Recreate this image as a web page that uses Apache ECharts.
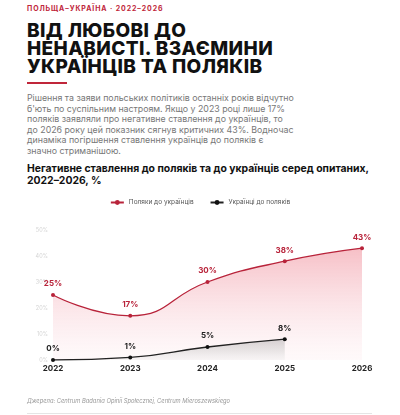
<!DOCTYPE html>
<html>
<head>
<meta charset="utf-8">
<script src="https://cdn.jsdelivr.net/npm/echarts@6/dist/echarts.min.js"></script>
<style>
  html, body { margin: 0; padding: 0; background: #fff; }
  body { width: 400px; height: 415px; position: relative; overflow: hidden; font-family: Inter, "Noto Sans", sans-serif; }
  .kicker { position: absolute; left: 27px; top: 4px; font-size: 7px; font-weight: 700; color: #c0263a; letter-spacing: 0.9px; }
  .title { position: absolute; left: 27px; top: 22px; font-size: 19px; line-height: 18px; font-weight: 800; color: #111; letter-spacing: 0.4px; }
  .rule { position: absolute; left: 27px; top: 82px; width: 40px; height: 2px; background: #c0263a; }
  .text { position: absolute; left: 27px; top: 93px; font-size: 8.8px; line-height: 10.5px; color: #777; }
  .sub { position: absolute; left: 27px; top: 163px; font-size: 10.4px; line-height: 12px; font-weight: 700; color: #111; }
  .source { position: absolute; left: 27px; top: 397px; font-size: 5.8px; font-style: italic; color: #999; }
  .bottom { position: absolute; left: 27px; top: 413px; width: 345px; height: 1px; background: #e5e5e5; }
  #chart { position: absolute; left: 0; top: 190px; width: 400px; height: 225px; }
</style>
</head>
<body>
<div class="kicker">ПОЛЬЩА–УКРАЇНА · 2022–2026</div>
<div class="title">ВІД ЛЮБОВІ ДО<br>НЕНАВИСТІ. ВЗАЄМИНИ<br>УКРАЇНЦІВ ТА ПОЛЯКІВ</div>
<div class="rule"></div>
<div class="text">Рішення та заяви польських політиків останніх років відчутно<br>б'ють по суспільним настроям. Якщо у 2023 році лише 17%<br>поляків заявляли про негативне ставлення до українців, то<br>до 2026 року цей показник сягнув критичних 43%. Водночас<br>динаміка погіршення ставлення українців до поляків є<br>значно стриманішою.</div>
<div class="sub">Негативне ставлення до поляків та до українців серед опитаних,<br>2022–2026, %</div>
<div id="chart"></div>
<div class="source">Джерела: Centrum Badania Opinii Społecznej, Centrum Mieroszewskiego</div>
<div class="bottom"></div>
<script>
var years = ['2022', '2023', '2024', '2025', '2026'];
var polesToUkr = [25, 17, 30, 38, 43];
var ukrToPoles = [0, 1, 5, 8, null];
var seriesNames = ['Поляки до українців', 'Українці до поляків'];

var chart = echarts.init(document.getElementById('chart'));

var option = {
  animation: false,
  textStyle: { fontFamily: 'Inter, "Noto Sans", sans-serif' },
  legend: {
    top: 4,
    left: 'center',
    itemWidth: 13,
    itemHeight: 6,
    itemGap: 16,
    textStyle: { fontSize: 6.5, color: '#555' },
    data: seriesNames
  },
  grid: { left: 53, right: 38, top: 40, bottom: 55 },
  xAxis: {
    type: 'category',
    data: years,
    boundaryGap: false,
    axisLine: { show: false },
    axisTick: { show: false },
    axisLabel: { color: '#222', fontSize: 8, fontWeight: 'bold', margin: 5 }
  },
  yAxis: {
    type: 'value',
    min: 0,
    max: 50,
    interval: 10,
    axisLine: { show: false },
    axisTick: { show: false },
    splitLine: { show: false },
    axisLabel: { color: '#d4d4d4', fontSize: 5.5, margin: 5, formatter: '{value}%' }
  },
  series: [
    {
      name: seriesNames[0],
      type: 'line',
      data: polesToUkr,
      smooth: 0.5,
      symbol: 'circle',
      symbolSize: 4,
      lineStyle: { color: '#b8233a', width: 1.3 },
      itemStyle: { color: '#b8233a' },
      label: {
        show: true,
        position: 'top',
        distance: 5,
        formatter: '{c}%',
        color: '#b8233a',
        fontSize: 8,
        fontWeight: 'bold'
      },
      areaStyle: {
        color: new echarts.graphic.LinearGradient(0, 0, 0, 1, [
          { offset: 0, color: 'rgba(236,115,130,0.65)' },
          { offset: 1, color: 'rgba(250,215,222,0.2)' }
        ])
      },
      z: 2
    },
    {
      name: seriesNames[1],
      type: 'line',
      data: ukrToPoles,
      smooth: 0.5,
      symbol: 'circle',
      symbolSize: 4,
      lineStyle: { color: '#222', width: 1.3 },
      itemStyle: { color: '#111' },
      label: {
        show: true,
        position: 'top',
        distance: 5,
        formatter: '{c}%',
        color: '#222',
        fontSize: 8,
        fontWeight: 'bold'
      },
      areaStyle: {
        color: new echarts.graphic.LinearGradient(0, 0, 0, 1, [
          { offset: 0, color: 'rgba(150,150,150,0.55)' },
          { offset: 1, color: 'rgba(235,235,235,0.5)' }
        ])
      },
      z: 3
    }
  ]
};

chart.setOption(option);
</script>
</body>
</html>
